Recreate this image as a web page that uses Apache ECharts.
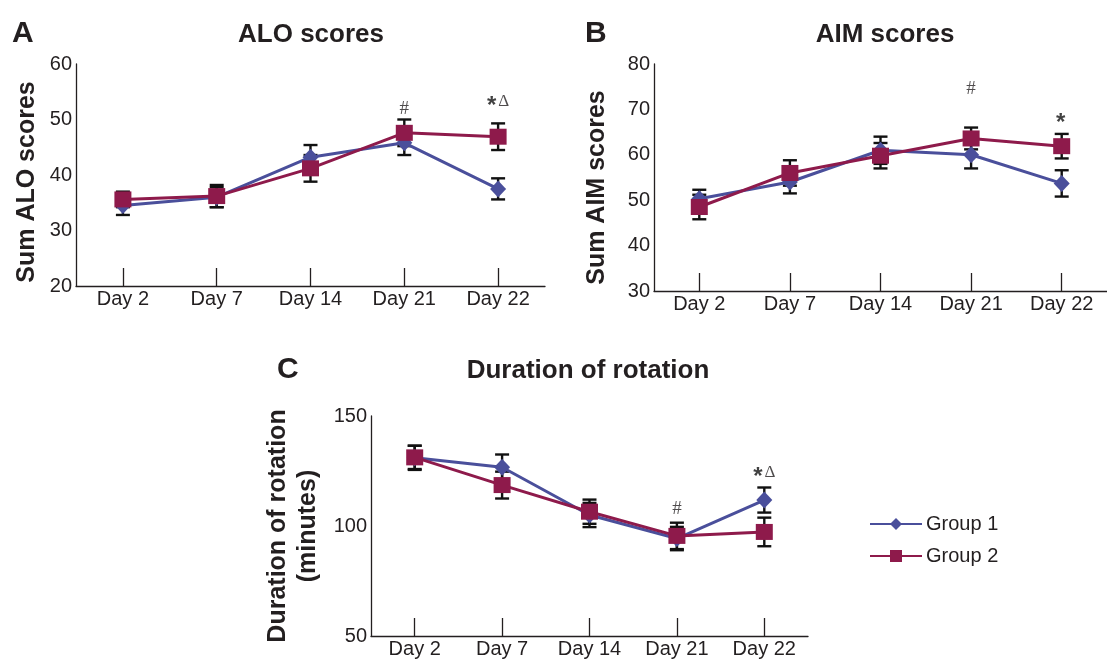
<!DOCTYPE html>
<html>
<head>
<meta charset="utf-8">
<script src="https://cdn.jsdelivr.net/npm/echarts@6/dist/echarts.min.js"></script>
<style>html,body{margin:0;padding:0;background:#fff;}#c{width:1107px;height:662px;}</style>
</head>
<body>
<div id="c"></div>
<script>
// ---- data ----
var days = ['Day 2', 'Day 7', 'Day 14', 'Day 21', 'Day 22'];
var aloG1 = [34.5, 36.0, 43.2, 45.8, 37.5];
var aloG1Err = [1.7, 1.8, 2.2, 2.2, 1.9];
var aloG2 = [35.6, 36.2, 41.2, 47.6, 46.9];
var aloG2Err = [1.4, 2.0, 2.4, 2.4, 2.4];
var aimG1 = [50.3, 54.0, 61.0, 60.0, 53.7];
var aimG1Err = [2.0, 2.5, 3.0, 3.0, 2.9];
var aimG2 = [48.5, 56.0, 59.8, 63.6, 61.9];
var aimG2Err = [2.7, 2.8, 2.8, 2.4, 2.7];
var durG1 = [131.0, 126.7, 105.0, 94.3, 111.8];
var durG1Err = [5.5, 5.8, 5.5, 5.3, 5.7];
var durG2 = [131.2, 118.6, 106.5, 95.5, 97.3];
var durG2Err = [5.3, 6.1, 5.5, 6.0, 6.5];
var aloMarks = [['Day 21', 51.9, '#'], ['Day 22', 53.2, '*\u0394']];
var aimMarks = [['Day 21', 74.6, '#'], ['Day 22', 68.0, '*']];
var durMarks = [['Day 21', 107.5, '#'], ['Day 22', 124.3, '*\u0394']];
var yTicksALO = {min: 20, max: 60, interval: 10};
var yTicksAIM = {min: 30, max: 80, interval: 10};
var yTicksDUR = {min: 50, max: 150, interval: 50};

// ---- style ----
var BLUE = '#4a4f9b';
var RED = '#8e1a4b';
var TXT = '#231f20';
var FONT = 'Liberation Sans, Arial, sans-serif';

function xAxis(gi) {
  return {
    type: 'category', gridIndex: gi, data: days, boundaryGap: true,
    axisLine: {lineStyle: {color: TXT, width: 1.3}},
    axisTick: {show: true, inside: true, alignWithLabel: true, length: 18, lineStyle: {color: TXT, width: 1.3}},
    axisLabel: {color: TXT, fontSize: 20, fontFamily: FONT, margin: 3, interval: 0},
    splitLine: {show: false}
  };
}
function yAxis(gi, t, name, gap, pad) {
  return {
    type: 'value', gridIndex: gi, min: t.min, max: t.max, interval: t.interval,
    name: name, nameLocation: 'middle', nameRotate: 90, nameGap: gap,
    nameTextStyle: {color: TXT, fontSize: 25, fontWeight: 'bold', fontFamily: FONT, lineHeight: 30, padding: pad},
    axisLine: {show: true, lineStyle: {color: TXT, width: 1.3}},
    axisTick: {show: false},
    axisLabel: {color: TXT, fontSize: 20, fontFamily: FONT, margin: 4},
    splitLine: {show: false}
  };
}
function lineSeries(name, gi, vals, color, symbol, size) {
  return {
    type: 'line', name: name, xAxisIndex: gi, yAxisIndex: gi, data: vals,
    symbol: symbol, symbolSize: size,
    lineStyle: {color: color, width: 3},
    itemStyle: {color: color, borderWidth: 0},
    z: symbol === 'rect' ? 4 : 3
  };
}
function errSeries(gi, vals, errs) {
  var d = vals.map(function (v, i) { return [i, v - errs[i], v + errs[i]]; });
  return {
    type: 'custom', xAxisIndex: gi, yAxisIndex: gi, data: d, silent: true, z: 2,
    renderItem: function (params, api) {
      var x = api.value(0);
      var lo = api.coord([x, api.value(1)]);
      var hi = api.coord([x, api.value(2)]);
      var hw = 7;
      var st = {stroke: '#111', lineWidth: 2.4};
      return {type: 'group', children: [
        {type: 'line', shape: {x1: lo[0], y1: lo[1], x2: hi[0], y2: hi[1]}, style: st},
        {type: 'line', shape: {x1: lo[0] - hw, y1: lo[1], x2: lo[0] + hw, y2: lo[1]}, style: st},
        {type: 'line', shape: {x1: hi[0] - hw, y1: hi[1], x2: hi[0] + hw, y2: hi[1]}, style: st}
      ]};
    }
  };
}
function fmtMark(s) {
  return s.split('').map(function (ch) {
    if (ch === '*') return '{a|*}';
    if (ch === '#') return '{h|#}';
    return '{d|' + ch + '}';
  }).join('');
}
function markSeries(gi, marks) {
  return {
    type: 'scatter', xAxisIndex: gi, yAxisIndex: gi, symbolSize: 1, silent: true,
    itemStyle: {color: 'rgba(0,0,0,0)'},
    data: marks.map(function (m) { return {value: [m[0], m[1]], label: {formatter: fmtMark(m[2])}}; }),
    label: {
      show: true, position: 'inside', color: TXT,
      rich: {
        a: {fontSize: 24, fontWeight: 'bold', fontFamily: FONT, color: '#111', padding: [10, 2, 0, 0]},
        h: {fontSize: 19, fontFamily: 'Liberation Serif, serif', color: TXT},
        d: {fontSize: 17, fontFamily: 'Liberation Serif, serif', color: TXT}
      }
    }
  };
}

var chart = echarts.init(document.getElementById('c'));
var titleStyle = {color: TXT, fontSize: 26, fontWeight: 'bold', fontFamily: FONT};
var letterStyle = {color: TXT, fontSize: 30, fontWeight: 'bold', fontFamily: FONT};
chart.setOption({
  animation: false,
  backgroundColor: '#fff',
  title: [
    {text: 'A', left: 7, top: 14, textStyle: letterStyle},
    {text: 'B', left: 580, top: 14, textStyle: letterStyle},
    {text: 'C', left: 272, top: 350, textStyle: letterStyle},
    {text: 'ALO scores', left: 306, top: 17, textAlign: 'center', textStyle: titleStyle},
    {text: 'AIM scores', left: 880, top: 17, textAlign: 'center', textStyle: titleStyle},
    {text: 'Duration of rotation', left: 583, top: 353, textAlign: 'center', textStyle: titleStyle}
  ],
  legend: {
    orient: 'vertical', left: 869, top: 514, itemWidth: 52, itemHeight: 15, itemGap: 12, padding: 0,
    data: ['Group 1', 'Group 2'],
    textStyle: {color: TXT, fontSize: 20, fontFamily: FONT, padding: [0, 0, 0, -1]}
  },
  grid: [
    {left: 76, top: 64, width: 469, height: 222},
    {left: 654, top: 64, width: 465, height: 227},
    {left: 371, top: 416, width: 437, height: 220}
  ],
  xAxis: [xAxis(0), xAxis(1), xAxis(2)],
  yAxis: [
    yAxis(0, yTicksALO, 'Sum ALO scores', 34, [0, 14, 0, 0]),
    yAxis(1, yTicksAIM, 'Sum AIM scores', 42, [0, 20, 0, 0]),
    yAxis(2, yTicksDUR, 'Duration of rotation\n(minutes)', 48, 0)
  ],
  series: [
    errSeries(0, aloG1, aloG1Err), errSeries(0, aloG2, aloG2Err),
    lineSeries('Group 1', 0, aloG1, BLUE, 'diamond', [16, 17]),
    lineSeries('Group 2', 0, aloG2, RED, 'rect', [17, 16]),
    markSeries(0, aloMarks),
    errSeries(1, aimG1, aimG1Err), errSeries(1, aimG2, aimG2Err),
    lineSeries('Group 1', 1, aimG1, BLUE, 'diamond', [16, 17]),
    lineSeries('Group 2', 1, aimG2, RED, 'rect', [17, 16]),
    markSeries(1, aimMarks),
    errSeries(2, durG1, durG1Err), errSeries(2, durG2, durG2Err),
    lineSeries('Group 1', 2, durG1, BLUE, 'diamond', [16, 17]),
    lineSeries('Group 2', 2, durG2, RED, 'rect', [17, 16]),
    markSeries(2, durMarks)
  ]
});
</script>
</body>
</html>
